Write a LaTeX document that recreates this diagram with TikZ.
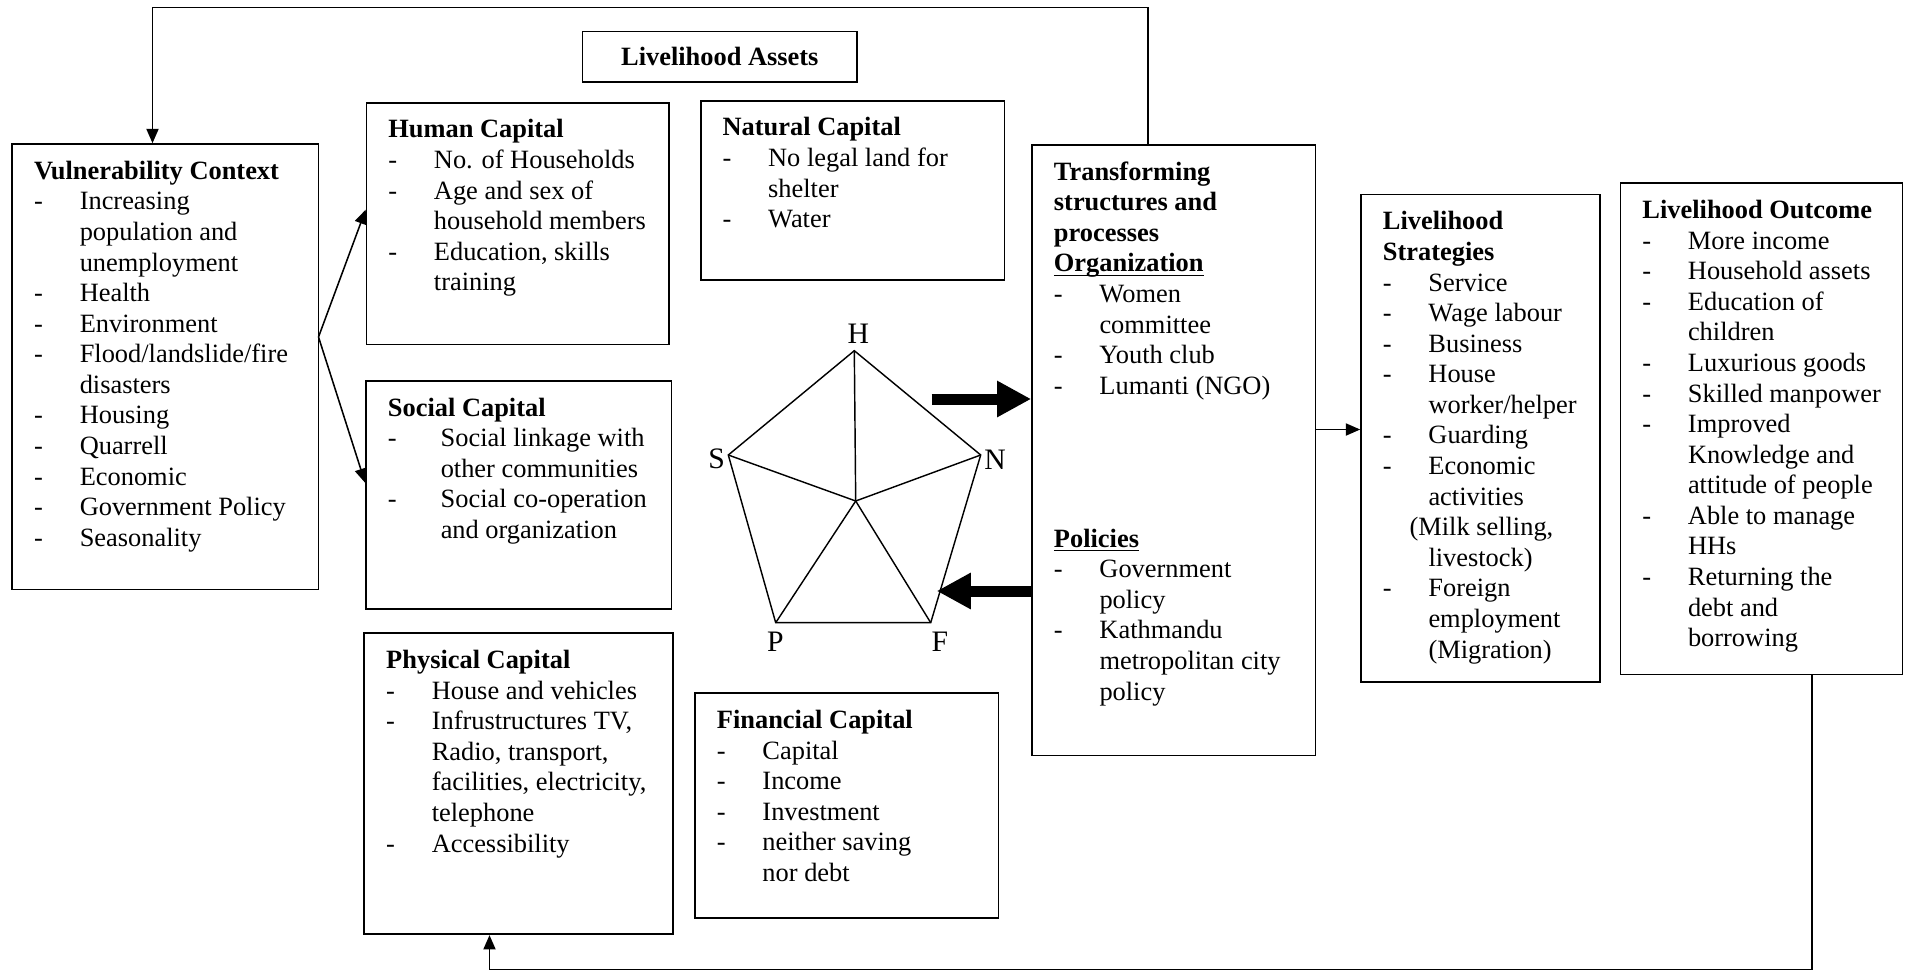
\documentclass[tikz,border=0pt]{standalone}
\usepackage{fontspec}
\setmainfont{Liberation Serif}
\usetikzlibrary{arrows.meta,fit,calc}
\newcommand{\itm}[1][20.7pt]{\makebox[#1][l]{-}}
\newcommand{\cnt}[1][20.7pt]{\hspace*{#1}}
\newcommand{\hd}[1]{\underline{\smash{\textbf{#1}}}}

\begin{document}
\begin{tikzpicture}[x=0.4545pt,y=-0.4545pt,font=\fontsize{12}{13.9}\selectfont,
  box/.style={draw,line width=0.75pt,inner sep=0pt},
  txt/.style={anchor=north west,inner sep=0pt,align=left,execute at begin node=\strut},
  arr/.style={line width=0.7pt,-{Triangle[length=6.5pt,width=5.5pt]}},
  fat/.style={line width=5pt,-{Triangle[length=15.5pt,width=15.5pt]}},
  lbl/.style={inner sep=0pt,font=\fontsize{13.5}{15}\selectfont}]
\useasboundingbox (0,0) rectangle (1907,971);
\node[box,fit={(12.3,144) (318.5,589.4)}] (vul) {};
\node[txt] (vultxt) at (33.8,160.5) {\textbf{Vulnerability Context}\\
\itm Increasing\\ \cnt population and\\ \cnt unemployment\\ \itm Health\\
\itm Environment\\ \itm Flood/landslide/fire\\ \cnt disasters\\ \itm Housing\\
\itm Quarrell\\ \itm Economic\\ \itm Government Policy\\ \itm Seasonality};
\node[box,fit={(582.6,31.4) (857,82.3)}] (assets) {};
\node (assetstxt) at (assets.center) {\textbf{Livelihood Assets}};
\node[box,fit={(366.5,102.7) (668.8,344.4)}] (hum) {};
\node[txt] (humtxt) at (388,119.2) {\textbf{Human Capital}\\
\itm No. of Households\\ \itm Age and sex of\\ \cnt household members\\
\itm Education, skills\\ \cnt training};
\node[box,fit={(700.7,100.7) (1004.5,280)}] (nat) {};
\node[txt] (nattxt) at (722.2,117.2) {\textbf{Natural Capital}\\
\itm No legal land for\\ \cnt shelter\\ \itm Water};
\node[box,fit={(366,380.8) (671.4,609.3)}] (soc) {};
\node[txt] (soctxt) at (387.5,397.3) {\textbf{Social Capital}\\
\itm[24pt]Social linkage with\\ \cnt[24pt]other communities\\
\itm[24pt]Social co-operation\\ \cnt[24pt]and organization};
\node[box,fit={(364.3,633.3) (673.3,934.3)}] (phy) {};
\node[txt] (phytxt) at (385.8,649.8) {\textbf{Physical Capital}\\
\itm House and vehicles\\ \itm Infrustructures TV,\\ \cnt Radio, transport,\\
\cnt facilities, electricity,\\ \cnt telephone\\ \itm Accessibility};
\node[box,fit={(695,693.3) (998.5,917.7)}] (fin) {};
\node[txt] (fintxt) at (716.5,709.8) {\textbf{Financial Capital}\\
\itm Capital\\ \itm Income\\ \itm Investment\\ \itm neither saving\\ \cnt nor debt};
\node[box,fit={(1032,144.7) (1315.5,755.5)}] (tra) {};
\node[txt] (tratxt) at (1053.5,161.2) {\textbf{Transforming}\\ \textbf{structures and}\\
\textbf{processes}\\ \hd{Organization}\\ \itm Women\\ \cnt committee\\
\itm Youth club\\ \itm Lumanti (NGO)\\[55.6pt]
\hd{Policies}\\ \itm Government\\ \cnt policy\\ \itm Kathmandu\\
\cnt metropolitan city\\ \cnt policy};
\node[box,fit={(1361,194.6) (1600,682)}] (str) {};
\node[txt] (strtxt) at (1382.5,211.1) {\textbf{Livelihood}\\ \textbf{Strategies}\\
\itm Service\\ \itm Wage labour\\ \itm Business\\ \itm House\\ \cnt worker/helper\\
\itm Guarding\\ \itm Economic\\ \cnt activities\\ \cnt[12.1pt](Milk selling,\\
\cnt livestock)\\ \itm Foreign\\ \cnt employment\\ \cnt (Migration)};
\node[box,fit={(1620.5,183.3) (1902.5,674.5)}] (out) {};
\node[txt] (outtxt) at (1642,199.8) {\textbf{Livelihood Outcome}\\
\itm More income\\ \itm Household assets\\ \itm Education of\\ \cnt children\\
\itm Luxurious goods\\ \itm Skilled manpower\\ \itm Improved\\ \cnt Knowledge and\\
\cnt attitude of people\\ \itm Able to manage\\ \cnt HHs\\ \itm Returning the\\
\cnt debt and\\ \cnt borrowing};
\coordinate (pH) at (854.3,350.7);
\coordinate (pN) at (980.7,455);
\coordinate (pF) at (930.7,622.7);
\coordinate (pP) at (775.7,622.7);
\coordinate (pS) at (728.3,455);
\coordinate (pC) at (855.7,501);
\draw[line width=0.65pt] (pH) -- (pN) -- (pF) -- (pP) -- (pS) -- cycle;
\foreach \v in {pH,pN,pF,pP,pS} \draw[line width=0.65pt] (pC) -- (\v);
\node[lbl] (lH) at (858.3,333.3) {H};
\node[lbl] (lS) at (716.7,459.3) {S};
\node[lbl] (lN) at (995,460) {N};
\node[lbl] (lP) at (775.3,641.7) {P};
\node[lbl] (lF) at (939.8,641.7) {F};
\coordinate (fatR) at (931.7,399);
\coordinate (fatL) at (936.7,591);
\draw[fat] (fatR) -- (fatR -| tra.west);
\draw[fat] (fatL -| tra.west) -- (fatL);
\coordinate (fork) at (318.5,337);
\draw[arr] (fork) -- ($(hum.south west)!0.557!(hum.north west)$);
\draw[arr] (fork) -- ($(soc.south west)!0.553!(soc.north west)$);
\coordinate (mid) at (1338,429.5);
\draw[arr] (tra.east |- mid) -- (str.west |- mid);
\coordinate (loopR) at (1148,7.5);
\coordinate (loopL) at (152.5,7.5);
\draw[arr] (tra.north -| loopR) -- (loopR) -- (loopL) -- (vul.north -| loopL);
\coordinate (botR) at (1812,969.5);
\coordinate (botL) at (489.5,969.5);
\draw[arr] (out.south -| botR) -- (botR) -- (botL) -- (phy.south -| botL);
\end{tikzpicture}
\end{document}
